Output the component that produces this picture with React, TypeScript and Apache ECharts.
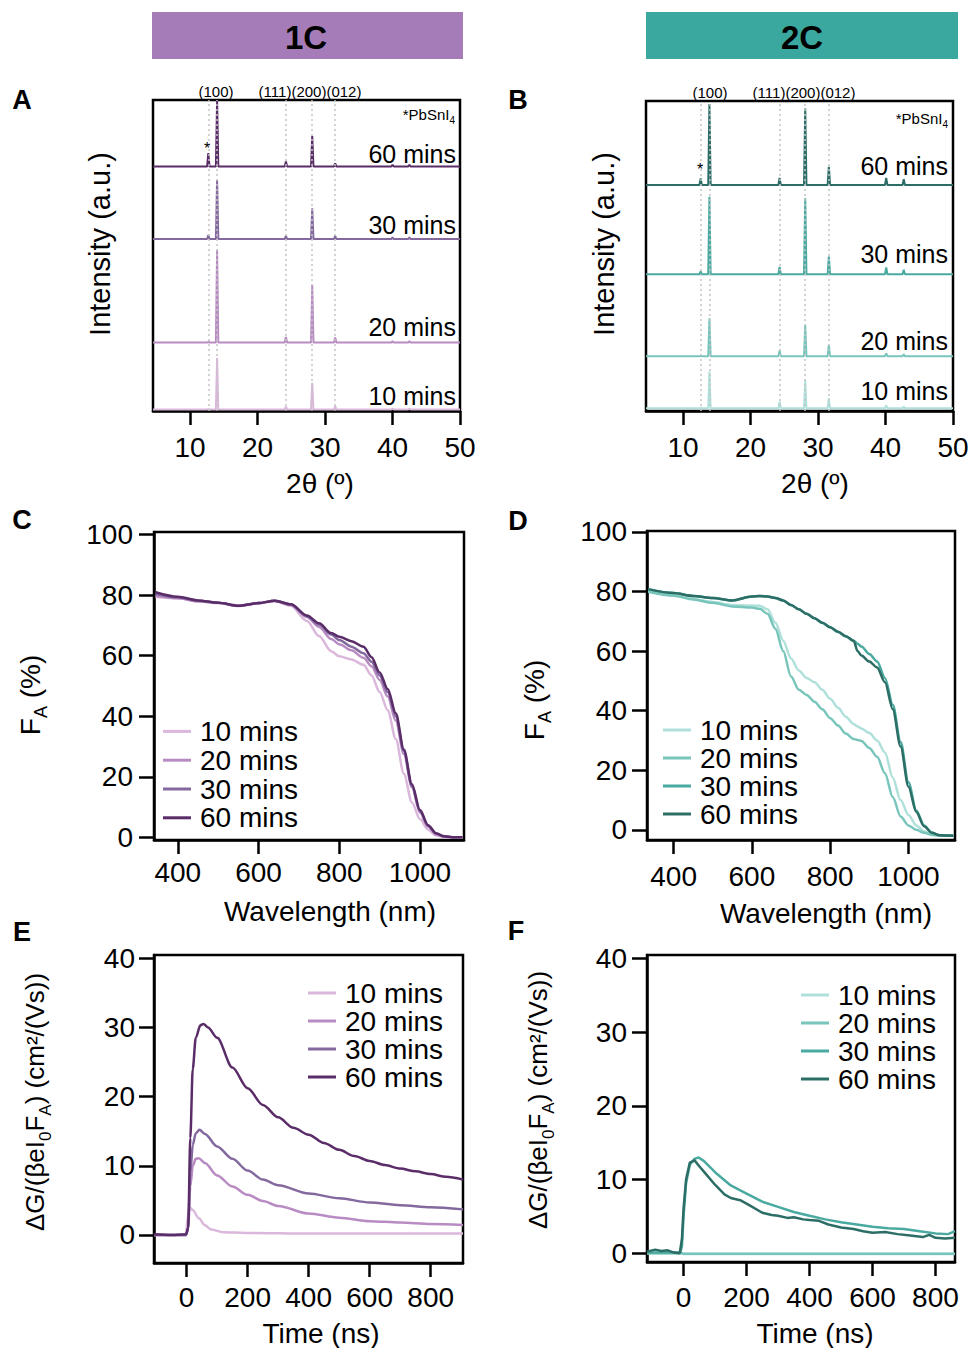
import React, { useEffect, useRef } from 'react';
import * as echarts from 'echarts';

const FONT = '"Liberation Sans", Arial, Helvetica, sans-serif';
const MINS = ['10 mins', '20 mins', '30 mins', '60 mins'];
const PURPLE = ['#dab7db', '#b88cc3', '#84699f', '#5a2c68'];
const TEAL = ['#b0e0da', '#78c5bb', '#4aa9a0', '#2c6e66'];

// ---------- XRD (A: 1C, B: 2C) offset traces: peak positions and peak-top values ----------
const xrdPos1C = [12.7, 14.0, 24.2, 28.1, 31.5, 40.0, 42.5];
const xrdBase1C = [0.5, 22, 55.3, 78.6];
const xrdTops1C_10 = [0.6, 17, 1.4, 9.1, 1.6, 0.8, 0.8];
const xrdTops1C_20 = [22.2, 51.8, 23.8, 40.5, 23.6, 22.5, 22.5];
const xrdTops1C_30 = [56.6, 74.3, 56.3, 65.2, 56.3, 55.8, 55.8];
const xrdTops1C_60 = [82.9, 99.7, 80.2, 88.4, 79.6, 79.2, 79.2];

const xrdPos2C = [12.6, 13.9, 24.3, 28.1, 31.6, 40.1, 42.7];
const xrdBase2C = [0.9, 17.7, 44.1, 72.9];
const xrdTops2C_10 = [1.0, 12.7, 3.0, 10, 4.1, 1.8, 1.4];
const xrdTops2C_20 = [17.8, 29.9, 19.5, 27.7, 21.3, 18.6, 18.3];
const xrdTops2C_30 = [45, 69.1, 46.5, 68.6, 49.8, 46.3, 45.6];
const xrdTops2C_60 = [75, 99, 75.2, 97.6, 78.8, 75.2, 74.8];

const refLines1C = [12.7, 14.0, 24.2, 28.1, 31.5];
const refLines2C = [12.6, 13.9, 24.3, 28.1, 31.6];

// ---------- Absorbed fraction (C: 1C, D: 2C) ----------
const wl1C = [345, 400, 450, 500, 550, 600, 640, 680, 720, 750, 780, 800, 830, 860, 880, 900, 920, 940, 960, 980, 1000, 1020, 1040, 1060, 1080, 1105];
const fa1C_10 = [79.5, 79, 78, 77.4, 76.4, 77.3, 78, 76.5, 71.5, 66.5, 61.5, 59.8, 58.8, 57, 53.5, 48, 42, 32.5, 21, 11.5, 6, 2.5, 0.6, 0, 0, 0];
const fa1C_20 = [79.8, 79, 78, 77.5, 76.5, 77.4, 78.2, 76.8, 72.8, 69.5, 65.5, 63.8, 61.8, 59.3, 56.5, 52, 46.5, 38.5, 27.5, 16.5, 8.2, 3.6, 1, 0.2, 0, 0];
const fa1C_30 = [80.5, 79.3, 78.2, 77.5, 76.5, 77.4, 78.2, 77, 73, 70.3, 67, 65.2, 63, 60.8, 58, 53.5, 48, 40, 28.5, 17, 8.5, 3.8, 1.2, 0.3, 0, 0];
const fa1C_60 = [81, 79.5, 78.3, 77.5, 76.5, 77.4, 78.2, 77, 73.3, 70.7, 67.5, 66.3, 64.8, 63, 59.5, 54.5, 49, 41, 29, 17.5, 9, 4, 1.3, 0.3, 0, 0];

const wl2C = [335, 400, 450, 500, 550, 600, 620, 640, 660, 680, 700, 720, 740, 760, 780, 800, 820, 840, 860, 870, 880, 900, 920, 940, 960, 980, 1000, 1020, 1040, 1060, 1080, 1115];
const fa2C_10 = [80.1, 78.8, 77.5, 76.5, 75.5, 75.3, 75.2, 74, 69.5, 63.5, 57.5, 53.5, 51, 49.5, 47, 44, 41, 38, 35.5, 34.7, 34, 32.5, 30, 26, 17.5, 10, 5, 1.5, -0.5, -1.5, -1.8, -2];
const fa2C_20 = [79.9, 78.6, 77.3, 76.2, 75, 74.6, 74.2, 72.5, 67.5, 60, 51.5, 47, 45.3, 43, 40.5, 37.5, 35, 32.3, 30.5, 30.2, 29.8, 27.5, 24.5, 19, 11, 4.5, 1.5, 0, -1, -1.7, -1.9, -2];
const fa2C_30 = [80.8, 79.5, 78.5, 77.8, 77, 78.3, 78.5, 78.3, 77.8, 77, 75.5, 74, 72.5, 71, 69.5, 68, 66.5, 65, 63.5, 62.5, 61.5, 59, 56.5, 51, 42, 29.5, 16, 6.5, 1.5, -1, -1.8, -2];
const fa2C_60 = [80.8, 79.5, 78.5, 77.8, 77, 78.3, 78.5, 78.3, 77.8, 77, 75.5, 74, 72.5, 71, 69.5, 68, 66.5, 65, 63.5, 60, 58.5, 56.5, 54.5, 49.5, 40.5, 28, 14.5, 6, 1.2, -1, -1.8, -2];

// ---------- TRMC transients (E: 1C, F: 2C) [time ns, value] ----------
const trmc1C_10 = [[-107, 0], [-2, 0], [3, 2.5], [10, 4.0], [20, 3.6], [40, 2.4], [60, 1.4], [80, 0.8], [120, 0.4], [200, 0.3], [400, 0.2], [600, 0.2], [906, 0.2]];
const trmc1C_20 = [[-107, 0], [-2, 0], [5, 1], [12, 7], [20, 10], [30, 11], [40, 11.1], [60, 10.4], [100, 8.6], [150, 7], [200, 5.8], [250, 4.9], [300, 4.2], [400, 3.1], [500, 2.5], [600, 2.0], [700, 1.8], [800, 1.6], [906, 1.45]];
const trmc1C_30 = [[-107, 0], [-2, 0], [5, 1], [12, 9], [20, 13], [30, 14.7], [42, 15.2], [60, 14.6], [100, 12.8], [150, 11.0], [200, 9.3], [250, 8.0], [300, 7.2], [400, 6.0], [500, 5.3], [600, 4.7], [700, 4.3], [800, 4.0], [906, 3.7]];
const trmc1C_60 = [[-107, 0.1], [-50, 0], [-2, 0.1], [5, 1], [12, 14], [20, 24], [30, 28.5], [45, 30.3], [55, 30.5], [70, 30], [100, 28.5], [150, 24.2], [200, 21.2], [250, 18.8], [300, 17], [350, 15.5], [400, 14.5], [450, 13.3], [500, 12.3], [550, 11.4], [600, 10.7], [650, 10.1], [700, 9.6], [750, 9.2], [800, 8.8], [850, 8.4], [906, 8.0]];

const trmc2C_10 = [[-116, 0], [-5, 0], [0, -0.1], [300, -0.1], [600, -0.1], [862, -0.1]];
const trmc2C_20 = [[-116, 0], [-5, 0], [0, -0.05], [300, -0.05], [600, -0.05], [862, -0.05]];
const trmc2C_30 = [[-116, 0.1], [-10, 0.1], [-5, 1], [0, 5], [8, 9.5], [20, 12], [35, 12.8], [48, 13.0], [65, 12.5], [100, 11], [150, 9.2], [200, 8.1], [250, 7.0], [300, 6.3], [350, 5.6], [400, 5.1], [450, 4.6], [500, 4.2], [550, 3.9], [600, 3.6], [650, 3.4], [700, 3.3], [750, 3.0], [800, 2.7], [840, 2.6], [862, 3.0]];
const trmc2C_60 = [[-116, 0.2], [-90, 0.5], [-70, 0.3], [-50, 0.4], [-30, 0.1], [-12, 0.0], [-5, 2], [0, 6], [8, 10], [20, 12.3], [35, 12.6], [50, 11.8], [70, 10.8], [100, 9.3], [130, 8.0], [150, 7.5], [180, 7.2], [210, 6.5], [250, 5.5], [280, 5.2], [300, 5.1], [330, 4.8], [350, 4.9], [380, 4.6], [400, 4.5], [430, 4.4], [460, 3.9], [500, 3.5], [540, 3.3], [570, 3.0], [600, 2.8], [640, 2.9], [680, 2.6], [720, 2.4], [760, 2.2], [780, 2.5], [800, 2.1], [830, 2.0], [862, 2.1]];

const xrdTicks = [10, 20, 30, 40, 50];
const wlTicks = [400, 600, 800, 1000];
const faTicks = [0, 20, 40, 60, 80, 100];
const timeTicks = [0, 200, 400, 600, 800];
const trmcTicks = [0, 10, 20, 30, 40];

function xrdLine(pos: number[], base: number, tops: number[]) {
  const pts: number[][] = [[4.5, base]];
  pos.forEach((p, i) => {
    pts.push([p - 0.18, base], [p, tops[i]], [p + 0.18, base]);
  });
  pts.push([50, base]);
  return pts;
}
function pairs(xs: number[], ys: number[]) {
  return xs.map((x, i) => [x, ys[i]]);
}

const AX = { color: '#000', width: 2.5 };
const plain = (v: number) => String(v);

function xAxisCfg(gi: number, min: number, max: number, ticks: number[], margin: number) {
  return {
    gridIndex: gi, type: 'value', min, max,
    axisLine: { show: true, onZero: false, lineStyle: AX },
    axisTick: { show: true, inside: false, length: 14, lineStyle: AX, customValues: ticks },
    axisLabel: { show: true, customValues: ticks, margin, fontSize: 28, fontFamily: FONT, color: '#000', formatter: plain },
    splitLine: { show: false },
  };
}
function yAxisCfg(gi: number, min: number, max: number, ticks: number[] | null, margin: number) {
  if (!ticks) return { gridIndex: gi, type: 'value', min, max, show: false };
  return {
    gridIndex: gi, type: 'value', min, max,
    axisLine: { show: true, onZero: false, lineStyle: AX },
    axisTick: { show: true, inside: false, length: 15, lineStyle: AX, customValues: ticks },
    axisLabel: { show: true, customValues: ticks, margin, fontSize: 28, fontFamily: FONT, color: '#000', formatter: plain },
    splitLine: { show: false },
  };
}
function grid(left: number, top: number, width: number, height: number) {
  return { left, top, width, height, show: true, borderColor: '#000', borderWidth: 2.5, containLabel: false, outerBoundsMode: 'none' };
}

function txt(text: string, x: number, y: number, size: number, o: any = {}) {
  return {
    type: 'text', x, y, rotation: o.rot || 0, z: 100,
    style: {
      text, fontSize: size, fontFamily: FONT, fontWeight: o.bold ? 'bold' : 'normal',
      fill: '#000', align: o.align || 'center', verticalAlign: 'middle', rich: o.rich,
    },
  };
}

const subRich = (size: number, sub: number, drop: number) => ({
  n: { fontSize: size, fontFamily: FONT, color: '#000', verticalAlign: 'bottom', padding: [0, 0, drop, 0] },
  s: { fontSize: sub, fontFamily: FONT, color: '#000', verticalAlign: 'bottom' },
});

export default function App() {
  const ref = useRef<HTMLDivElement>(null);
  useEffect(() => {
    if (!ref.current) return;
    const chart = echarts.init(ref.current, null, { renderer: 'svg' });

    const line = (name: string, data: any, color: string, xi: number, width: number, smooth: any, extra: any = {}) => ({
      type: 'line', name, data, xAxisIndex: xi, yAxisIndex: xi, showSymbol: false, symbol: 'none',
      smooth, smoothMonotone: 'x', color, lineStyle: { color, width }, z: 2, silent: true, ...extra,
    });

    const markLines = (vals: number[]) => ({
      silent: true, symbol: ['none', 'none'], label: { show: false },
      lineStyle: { color: '#c4c4c4', type: [2, 3], width: 1.5 },
      data: vals.map((v) => ({ xAxis: v })),
    });

    const xrd1C = [
      xrdLine(xrdPos1C, xrdBase1C[0], xrdTops1C_10), xrdLine(xrdPos1C, xrdBase1C[1], xrdTops1C_20),
      xrdLine(xrdPos1C, xrdBase1C[2], xrdTops1C_30), xrdLine(xrdPos1C, xrdBase1C[3], xrdTops1C_60),
    ];
    const xrd2C = [
      xrdLine(xrdPos2C, xrdBase2C[0], xrdTops2C_10), xrdLine(xrdPos2C, xrdBase2C[1], xrdTops2C_20),
      xrdLine(xrdPos2C, xrdBase2C[2], xrdTops2C_30), xrdLine(xrdPos2C, xrdBase2C[3], xrdTops2C_60),
    ];
    const fa1C = [fa1C_10, fa1C_20, fa1C_30, fa1C_60].map((y) => pairs(wl1C, y));
    const fa2C = [fa2C_10, fa2C_20, fa2C_30, fa2C_60].map((y) => pairs(wl2C, y));
    const tr1C = [trmc1C_10, trmc1C_20, trmc1C_30, trmc1C_60];
    const tr2C = [trmc2C_10, trmc2C_20, trmc2C_30, trmc2C_60];

    const series: any[] = [];
    MINS.forEach((m, i) => {
      series.push(line('A|' + m, xrd1C[i], PURPLE[i], 0, 2, false, i === 0 ? { markLine: markLines(refLines1C), z: 1 } : {}));
      series.push(line('B|' + m, xrd2C[i], TEAL[i], 1, 2, false, i === 0 ? { markLine: markLines(refLines2C), z: 1 } : {}));
      series.push(line('C|' + m, fa1C[i], PURPLE[i], 2, 2.5, 0.3));
      series.push(line('D|' + m, fa2C[i], TEAL[i], 3, 2.5, 0.3));
      series.push(line('E|' + m, tr1C[i], PURPLE[i], 4, 2.5, 0.3));
      series.push(line('F|' + m, tr2C[i], TEAL[i], 5, 2.5, false));
    });

    const legend = (p: string, left: number, top: number, lh: number) => ({
      data: MINS.map((m) => p + '|' + m), left, top, orient: 'vertical', itemWidth: 28, itemHeight: 3,
      itemGap: 0, icon: 'rect', padding: 0, selectedMode: false,
      formatter: (n: string) => n.split('|')[1],
      textStyle: { fontSize: 28, fontFamily: FONT, color: '#000', lineHeight: lh, padding: [0, 0, 0, 4] },
    });

    const faRich = {
      n: { fontSize: 28, fontFamily: FONT, color: '#000', verticalAlign: 'bottom', padding: [0, 0, 6, 0] },
      s: { fontSize: 18, fontFamily: FONT, color: '#000', verticalAlign: 'bottom' },
    };
    const dgRich = {
      n: { fontSize: 26, fontFamily: FONT, color: '#000', verticalAlign: 'bottom', padding: [0, 0, 6, 0] },
      s: { fontSize: 17, fontFamily: FONT, color: '#000', verticalAlign: 'bottom' },
    };
    const pbRich = subRich(15, 10, 4);

    const graphic: any[] = [
      { type: 'rect', shape: { x: 152, y: 12, width: 311, height: 47 }, style: { fill: '#a57bb8' } },
      { type: 'rect', shape: { x: 646, y: 12, width: 312, height: 47 }, style: { fill: '#3ba89f' } },
      txt('1C', 306, 37, 33, { bold: true }),
      txt('2C', 802, 37, 33, { bold: true }),
      txt('A', 22, 100, 27, { bold: true }),
      txt('B', 518, 100, 27, { bold: true }),
      txt('C', 22, 520, 27, { bold: true }),
      txt('D', 518, 521, 27, { bold: true }),
      txt('E', 22, 932, 27, { bold: true }),
      txt('F', 516, 931, 27, { bold: true }),
      txt('(100)', 216, 91, 15),
      txt('(111)(200)(012)', 310, 91, 15),
      txt('(100)', 710, 92, 15),
      txt('(111)(200)(012)', 804, 92, 15),
      txt('{n|*PbSnI}{s|4}', 455, 116, 15, { align: 'right', rich: pbRich }),
      txt('{n|*PbSnI}{s|4}', 948, 120, 15, { align: 'right', rich: pbRich }),
      txt('*', 207, 148, 16),
      txt('*', 700, 169, 16),
      txt('60 mins', 456, 154, 25, { align: 'right' }),
      txt('30 mins', 456, 225, 25, { align: 'right' }),
      txt('20 mins', 456, 327, 25, { align: 'right' }),
      txt('10 mins', 456, 396, 25, { align: 'right' }),
      txt('60 mins', 948, 166, 25, { align: 'right' }),
      txt('30 mins', 948, 254, 25, { align: 'right' }),
      txt('20 mins', 948, 341, 25, { align: 'right' }),
      txt('10 mins', 948, 391, 25, { align: 'right' }),
      txt('Intensity (a.u.)', 100, 244, 29, { rot: Math.PI / 2 }),
      txt('Intensity (a.u.)', 604, 244, 29, { rot: Math.PI / 2 }),
      txt('2θ (º)', 320, 483, 28),
      txt('2θ (º)', 815, 483, 28),
      txt('{n|F}{s|A}{n| (%)}', 33, 695, 28, { rot: Math.PI / 2, rich: faRich }),
      txt('{n|F}{s|A}{n| (%)}', 537, 700, 28, { rot: Math.PI / 2, rich: faRich }),
      txt('Wavelength (nm)', 330, 911, 28),
      txt('Wavelength (nm)', 826, 913, 28),
      txt('{n|ΔG/(βeI}{s|0}{n|F}{s|A}{n|) (cm²/(Vs))}', 38, 1102, 26, { rot: Math.PI / 2, rich: dgRich }),
      txt('{n|ΔG/(βeI}{s|0}{n|F}{s|A}{n|) (cm²/(Vs))}', 541, 1100, 26, { rot: Math.PI / 2, rich: dgRich }),
      txt('Time (ns)', 321, 1333, 28),
      txt('Time (ns)', 815, 1333, 28),
    ];

    chart.setOption({
      animation: false,
      backgroundColor: '#fff',
      grid: [
        grid(153, 100, 307, 311),
        grid(646, 101, 307, 310),
        grid(154, 532, 310, 308),
        grid(647, 531, 308, 309),
        grid(154, 955, 309, 308),
        grid(647, 955, 308, 307),
      ],
      xAxis: [
        xAxisCfg(0, 4.5, 50, xrdTicks, 22),
        xAxisCfg(1, 4.5, 50, xrdTicks, 22),
        xAxisCfg(2, 341, 1109, wlTicks, 18),
        xAxisCfg(3, 332, 1119, wlTicks, 22),
        xAxisCfg(4, -107, 906, timeTicks, 20),
        xAxisCfg(5, -116, 862, timeTicks, 21),
      ],
      yAxis: [
        yAxisCfg(0, 0, 100, null, 0),
        yAxisCfg(1, 0, 100, null, 0),
        yAxisCfg(2, -0.9, 100.9, faTicks, 21),
        yAxisCfg(3, -3.4, 100.3, faTicks, 20),
        yAxisCfg(4, -4.05, 40.46, trmcTicks, 19),
        yAxisCfg(5, -1.18, 40.45, trmcTicks, 20),
      ],
      legend: [
        legend('C', 163, 717, 28.8),
        legend('D', 663, 716, 27.8),
        legend('E', 308, 979, 27.8),
        legend('F', 801, 981, 27.2),
      ],
      series,
      graphic,
    });
    return () => chart.dispose();
  }, []);
  return <div ref={ref} style={{ position: 'absolute', left: 0, top: 0, width: 970, height: 1348 }} />;
}
